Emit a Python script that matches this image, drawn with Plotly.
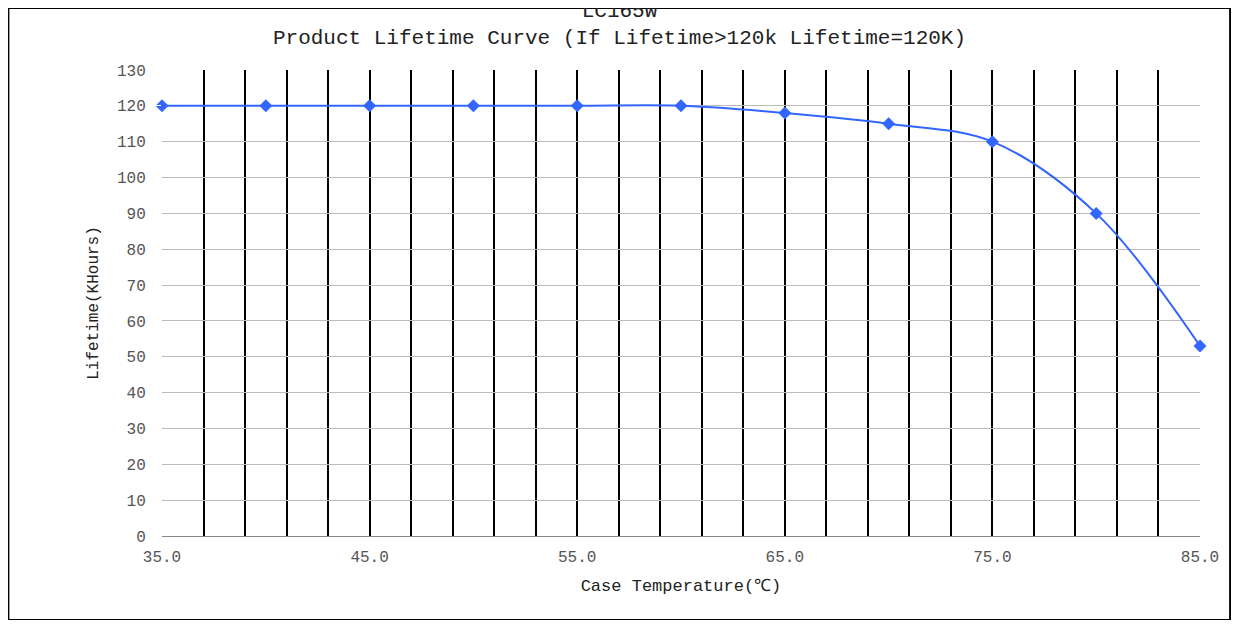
import plotly.graph_objects as go

temps = [35, 40, 45, 50, 55, 60, 65, 70, 75, 80, 85]
lifetime = [120, 120, 120, 120, 120, 120, 118, 115, 110, 90, 53]
x_ticks = [35, 45, 55, 65, 75, 85]
x_labels = ["35.0", "45.0", "55.0", "65.0", "75.0", "85.0"]

font = "Liberation Mono, DejaVu Sans Mono, monospace"
fig = go.Figure(go.Scatter(
    x=temps, y=lifetime, mode="lines+markers",
    line=dict(color="#3366ff", width=2, shape="spline"),
    marker=dict(symbol="diamond", size=10, color="#3366ff"),
    cliponaxis=False,
))
fig.update_layout(
    width=1223, height=612, autosize=False,
    plot_bgcolor="white", paper_bgcolor="white",
    margin=dict(l=154, r=31, t=62, b=84),
    font=dict(family=font, color="#555", size=16),
    title=dict(text="LC165W<br>Product Lifetime Curve (If Lifetime>120k Lifetime=120K)",
               x=0.5, xanchor="center", y=0.985, yanchor="top",
               font=dict(size=21, color="#222")),
    showlegend=False,
    shapes=[dict(type="rect", xref="paper", yref="paper",
                 x0=-0.148, x1=1.029, y0=-0.18, y1=1.133,
                 line=dict(color="black", width=2))],
)
fig.update_xaxes(range=[35, 85], tickvals=x_ticks, ticktext=x_labels,
                 showgrid=True, gridcolor="black", gridwidth=2,
                 minor=dict(dtick=2, tick0=35, showgrid=True, gridcolor="black", gridwidth=2),
                 showline=True, linecolor="#888", zeroline=False,
                 ticks="outside", ticklen=6, tickcolor="white",
                 title=dict(text="Case Temperature(℃)", standoff=12,
                            font=dict(size=17, color="#222")))
fig.update_yaxes(range=[0, 130], dtick=10, showgrid=True, gridcolor="#bbb",
                 zeroline=False, showline=False,
                 ticks="outside", ticklen=12, tickcolor="white",
                 title=dict(text="Lifetime(KHours)", standoff=14,
                            font=dict(size=16, color="#222")))
fig.write_html("out.html")
